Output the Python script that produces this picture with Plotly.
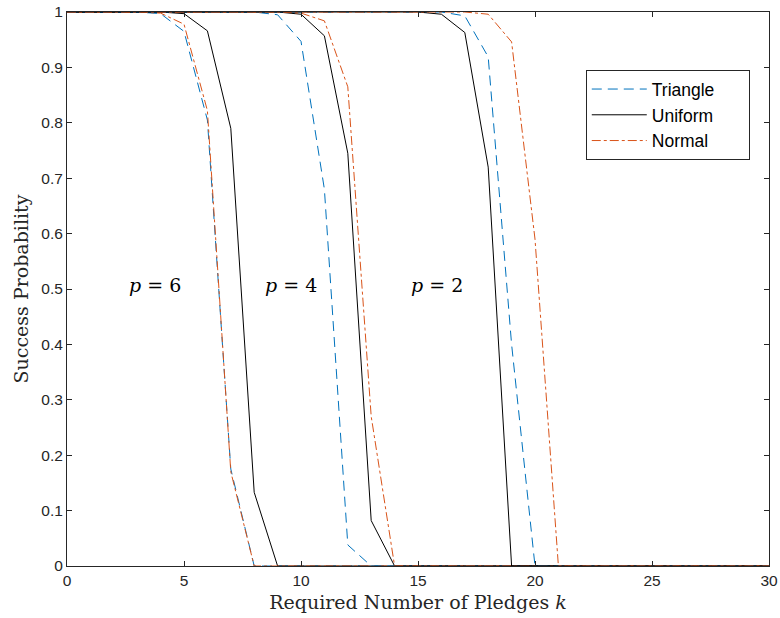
import plotly.graph_objects as go

k = list(range(0, 31))

def pad(vals, n=31):
    return vals + [0.0] * (n - len(vals))

tri_p6 = pad([1, 1, 1, 1, 0.997, 0.965, 0.805, 0.175, 0])
uni_p6 = pad([1, 1, 1, 1, 1, 0.997, 0.966, 0.79, 0.133, 0])
nor_p6 = pad([1, 1, 1, 1, 0.998, 0.978, 0.822, 0.17, 0])

tri_p4 = pad([1, 1, 1, 1, 1, 1, 1, 1, 1, 0.995, 0.947, 0.68, 0.038, 0])
uni_p4 = pad([1, 1, 1, 1, 1, 1, 1, 1, 1, 1, 0.996, 0.957, 0.745, 0.082, 0])
nor_p4 = pad([1, 1, 1, 1, 1, 1, 1, 1, 1, 1, 0.998, 0.984, 0.865, 0.27, 0])

tri_p2 = pad([1] * 17 + [0.993, 0.919, 0.40, 0])
uni_p2 = pad([1] * 16 + [0.996, 0.963, 0.72, 0])
nor_p2 = pad([1] * 18 + [0.996, 0.946, 0.59, 0])

labels = ["p = 6", "p = 4", "p = 2"]
label_x = [3.74, 9.59, 15.81]
label_y = [0.507, 0.507, 0.507]

BLUE = "#0072BD"
BLACK = "#000000"
ORANGE = "#D95319"
NB = "\u00a0"

fig = go.Figure()
groups = [(tri_p6, uni_p6, nor_p6), (tri_p4, uni_p4, nor_p4), (tri_p2, uni_p2, nor_p2)]
for gi, (t, u, n) in enumerate(groups):
    show = gi == 0
    fig.add_trace(go.Scatter(x=k, y=t, mode="lines", name="Triangle" + NB * 6, legendgroup="t",
                             showlegend=show, line=dict(color=BLUE, width=1, dash="10px,6px")))
    fig.add_trace(go.Scatter(x=k, y=u, mode="lines", name="Uniform", legendgroup="u",
                             showlegend=show, line=dict(color=BLACK, width=1)))
    fig.add_trace(go.Scatter(x=k, y=n, mode="lines", name="Normal", legendgroup="n",
                             showlegend=show, line=dict(color=ORANGE, width=1, dash="dashdot")))

for lx, ly, lt in zip(label_x, label_y, labels):
    p, rest = lt.split(" ", 1)
    fig.add_annotation(x=lx, y=ly, text="<i>" + p + "</i>" + NB + rest.replace(" ", NB), showarrow=False,
                       font=dict(family="DejaVu Serif", size=19, color="black"))

axis_common = dict(showline=True, linecolor="#262626", linewidth=1, mirror="ticks",
                   ticks="inside", ticklen=5, tickcolor="#262626", showgrid=False,
                   zeroline=False, automargin=False,
                   tickfont=dict(family="Liberation Sans", size=15.5, color="#262626"))

fig.update_xaxes(range=[0, 30], tickvals=[0, 5, 10, 15, 20, 25, 30],
                 title=dict(text="Required Number of Pledges <i>k</i>", standoff=8,
                            font=dict(family="DejaVu Serif", size=19, color="#262626")),
                 **axis_common)
fig.update_yaxes(range=[0, 1], tickvals=[i / 10 for i in range(11)],
                 ticktext=["0", "0.1", "0.2", "0.3", "0.4", "0.5", "0.6", "0.7", "0.8", "0.9", "1"],
                 title=dict(text="Success Probability", standoff=7,
                            font=dict(family="DejaVu Serif", size=19, color="#262626")),
                 **axis_common)

fig.update_layout(
    width=780, height=618,
    margin=dict(l=67, r=11, t=12, b=52),
    plot_bgcolor="white", paper_bgcolor="white",
    legend=dict(x=0.739, y=0.895, xanchor="left", yanchor="top",
                bordercolor="#262626", borderwidth=1, bgcolor="white",
                font=dict(family="Liberation Sans", size=17.5, color="black"),
                tracegroupgap=0, itemwidth=55),
)

# remove the browser's default 8px body margin so the figure sits at the page origin
fig.write_html("out.html", config={"displayModeBar": False},
               post_script="document.body.style.margin='0';")
